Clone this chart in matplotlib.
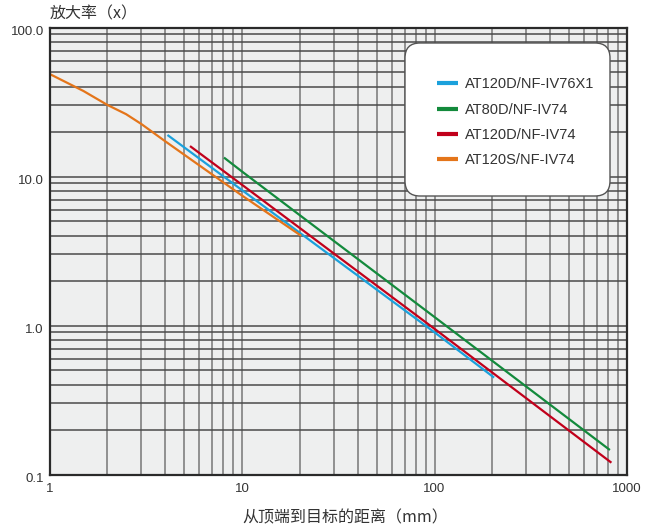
import matplotlib
matplotlib.use('Agg')
import matplotlib.pyplot as plt
import matplotlib.transforms as mtrans
from matplotlib.patches import FancyBboxPatch
from matplotlib.ticker import FixedLocator, FixedFormatter, NullFormatter

# 数据
nomes = ['AT120D/NF-IV76X1', 'AT80D/NF-IV74', 'AT120D/NF-IV74', 'AT120S/NF-IV74']
cores = ['#1ba1dc', '#138a3c', '#c1001b', '#e4751a']

dist_azul = [4.1, 10, 100, 204]
mag_azul = [19.0, 8.1, 0.90, 0.447]

dist_verde = [8.06, 10, 100, 815]
mag_verde = [13.4, 10.8, 1.14, 0.146]

dist_vermelho = [5.37, 10, 100, 830]
mag_vermelho = [16.0, 8.8, 0.95, 0.12]

dist_laranja = [1, 1.5, 2, 2.5, 3, 4, 10, 20.3]
mag_laranja = [48.8, 37.5, 30.2, 26.2, 22.5, 17.2, 7.45, 4.0]

xticks = [1, 10, 100, 1000]
xtick_labels = ['1', '10', '100', '1000']
yticks = [0.1, 1, 10, 100]
ytick_labels = ['0.1', '1.0', '10.0', '100.0']

fig = plt.figure(figsize=(6.48, 5.29), dpi=100)
W, H = 648, 529
esq, dir_, topo, base = 49.5, 627, 27.5, 474.5
ax = fig.add_axes([esq / W, 1 - base / H, (dir_ - esq) / W, (base - topo) / H])
ax.set_facecolor('#eeefef')
ax.set_xscale('log')
ax.set_yscale('log')
ax.set_xlim(1, 1000)
ax.set_ylim(0.1, 100)

# Grade
ax.grid(True, which='both', axis='x', color='#909090', linewidth=1.4)
ax.grid(True, which='both', axis='y', color='#4a4a4a', linewidth=1.1)
ax.set_axisbelow(True)

series = [(dist_azul, mag_azul), (dist_verde, mag_verde),
          (dist_vermelho, mag_vermelho), (dist_laranja, mag_laranja)]
linhas = []
for (xs, ys), nome, cor in zip(series, nomes, cores):
    l, = ax.plot(xs, ys, color=cor, linewidth=1.6, label=nome, solid_capstyle='butt')
    linhas.append(l)

ax.xaxis.set_major_locator(FixedLocator(xticks))
ax.xaxis.set_major_formatter(FixedFormatter(xtick_labels))
ax.xaxis.set_minor_formatter(NullFormatter())
ax.yaxis.set_major_locator(FixedLocator(yticks))
ax.yaxis.set_major_formatter(FixedFormatter(ytick_labels))
ax.yaxis.set_minor_formatter(NullFormatter())
ax.tick_params(which='both', length=0)
ax.tick_params(axis='x', pad=6)
ax.tick_params(axis='y', pad=4)
desloc = mtrans.ScaledTranslation(0, -3 / 100, fig.dpi_scale_trans)
for t in ax.get_yticklabels():
    t.set_transform(t.get_transform() + desloc)
for t in ax.get_xticklabels() + ax.get_yticklabels():
    t.set_fontfamily('Liberation Sans')
    t.set_fontsize(9.5)
    t.set_color('#333333')

for s in ax.spines.values():
    s.set_color('#2a2a2a')
    s.set_linewidth(1.6)

# Caixa da legenda arredondada
lx0 = (405 - esq) / (dir_ - esq)
lx1 = (610 - esq) / (dir_ - esq)
ly1 = (base - 43) / (base - topo)
ly0 = (base - 196) / (base - topo)
caixa = FancyBboxPatch((lx0, ly0), lx1 - lx0, ly1 - ly0,
                       boxstyle='round,pad=0,rounding_size=0.026',
                       mutation_aspect=(dir_ - esq) / (base - topo),
                       transform=ax.transAxes, facecolor='white',
                       edgecolor='#555555', linewidth=1.0, zorder=4)
ax.add_patch(caixa)

leg = ax.legend(handles=linhas, loc='upper left',
                bbox_to_anchor=((430 - esq) / (dir_ - esq), (base - 70) / (base - topo)),
                frameon=False, borderpad=0, handlelength=1.4, handletextpad=0.5,
                labelspacing=0.78, prop={'family': 'Liberation Sans', 'size': 10.5})
leg.set_zorder(5)
for lh in leg.get_lines():
    lh.set_linewidth(3)
for t in leg.get_texts():
    t.set_color('#333333')

# Títulos
fig.text(50 / W, 1 - 14 / H, '放大率（x）', fontfamily='Noto Sans CJK SC',
         fontsize=11.5, color='#333333', ha='left', va='center')
fig.text(345 / W, 1 - 518 / H, '从顶端到目标的距离（mm）', fontfamily='Noto Sans CJK SC',
         fontsize=11.5, color='#333333', ha='center', va='center')

fig.savefig('out.png', dpi=100)
